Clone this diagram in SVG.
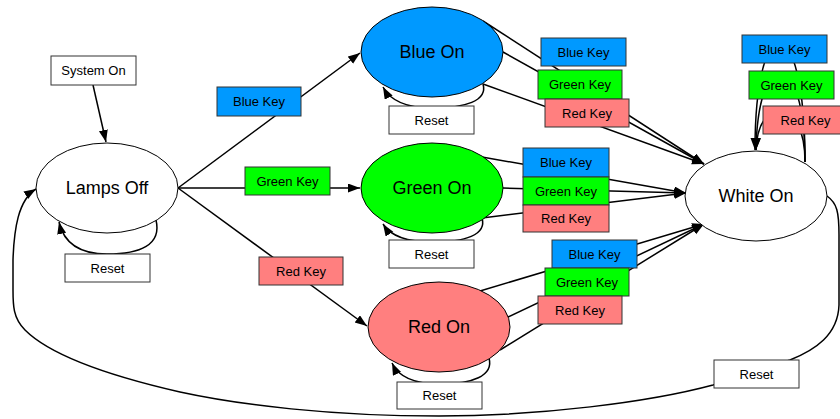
<svg xmlns="http://www.w3.org/2000/svg" width="840" height="419" viewBox="0 0 840 419">
  <style>
    .edge { fill: none; stroke: #000; stroke-width: 1.5; }
    .arrow { marker-end: url(#head); }
    .state { stroke: #000; stroke-width: 1; }
    .box { stroke: #333; stroke-width: 1; }
    .white { fill: #fff; }
    .blue { fill: #0099ff; }
    .green { fill: #00ff00; }
    .red { fill: #ff7f7f; }
    .node-text { font-family: "Liberation Sans", Arial, sans-serif; font-size: 18px; fill: #000; text-anchor: middle; dominant-baseline: central; }
    .label-text { font-family: "Liberation Sans", Arial, sans-serif; font-size: 13px; fill: #000; text-anchor: middle; dominant-baseline: central; }
  </style>
  <defs>
    <marker id="head" markerUnits="userSpaceOnUse" markerWidth="13" markerHeight="10" refX="12" refY="4.5" orient="auto">
      <path d="M0,0 L12,4.5 L0,9 z" fill="#000"/>
    </marker>
  </defs>

  <rect width="840" height="419" fill="#fff"/>

  <g id="connectors">
    <!-- start -->
    <path class="edge arrow" d="M93,85 L106,142"/>
    <!-- Lamps Off out -->
    <path class="edge arrow" d="M178,188 L360,53"/>
    <path class="edge arrow" d="M178,188 L360,188"/>
    <path class="edge arrow" d="M178,188 L367,326"/>
    <!-- Reset loops -->
    <path class="edge arrow" d="M156,220 C162,245 140,254 107,254 C80,254 64,244 59,222"/>
    <path class="edge arrow" d="M483,84 C488,101 465,108 432,108 C405,108 390,100 383,87"/>
    <path class="edge arrow" d="M482,218 C487,235 465,242 432,242 C405,242 390,235 383,224"/>
    <path class="edge arrow" d="M489,358 C494,376 472,384 440,384 C412,384 398,376 392,363"/>
    <!-- Blue On to White On -->
    <path class="edge arrow" d="M483,21 L704,164"/>
    <path class="edge arrow" d="M503,52 L704,164"/>
    <path class="edge arrow" d="M483,84 L704,164"/>
    <!-- Green On to White On -->
    <path class="edge arrow" d="M482,157 L686,193"/>
    <path class="edge arrow" d="M503,188 L686,193"/>
    <path class="edge arrow" d="M482,218 L686,193"/>
    <!-- Red On to White On -->
    <path class="edge arrow" d="M480,291 L704,224"/>
    <path class="edge arrow" d="M508,317 L704,224"/>
    <path class="edge arrow" d="M500,350 L704,224"/>
    <!-- White On self loops -->
    <path class="edge arrow" d="M805,162 C805,5 755,5 755,150"/>
    <path class="edge arrow" d="M805,162 C805,45 758,45 756,150"/>
    <path class="edge arrow" d="M805,162 C805,95 758,95 756,150"/>
    <!-- White On reset back to Lamps Off -->
    <path class="edge arrow" d="M827,196 C837,203 839,212 839,235 L839,305 C838,335 815,350 790,360 L713,385 C650,402 540,416 439,416 C330,416 240,405 180,392 C110,376 50,355 25,330 C13,318 13,305 13,290 L13,260 C14,230 18,200 36,189"/>
  </g>

  <g id="system-on">
    <rect class="box white" x="51" y="56" width="85" height="29"/>
    <text class="label-text" x="93.5" y="70.5">System On</text>
  </g>

  <g id="lamps-off">
    <ellipse class="state white" cx="107" cy="188" rx="71" ry="45"/>
    <text class="node-text" x="107" y="188">Lamps Off</text>
  </g>

  <g id="blue-on">
    <ellipse class="state blue" cx="432" cy="52" rx="71" ry="45"/>
    <text class="node-text" x="432" y="52">Blue On</text>
  </g>

  <g id="green-on">
    <ellipse class="state green" cx="432" cy="188" rx="71" ry="45"/>
    <text class="node-text" x="432" y="188">Green On</text>
  </g>

  <g id="red-on">
    <ellipse class="state red" cx="439" cy="327" rx="71" ry="45"/>
    <text class="node-text" x="439" y="327">Red On</text>
  </g>

  <g id="white-on">
    <ellipse class="state white" cx="756" cy="196" rx="71" ry="45"/>
    <text class="node-text" x="756" y="196">White On</text>
  </g>

  <g id="labels">
    <!-- Lamps Off transitions -->
    <rect class="box white" x="65" y="254" width="85" height="28"/>
    <text class="label-text" x="107.5" y="268">Reset</text>
    <rect class="box blue" x="217" y="87" width="84" height="29"/>
    <text class="label-text" x="259" y="101.5">Blue Key</text>
    <rect class="box green" x="245" y="167" width="85" height="28"/>
    <text class="label-text" x="287.5" y="181">Green Key</text>
    <rect class="box red" x="259" y="257" width="84" height="28"/>
    <text class="label-text" x="301" y="271">Red Key</text>

    <!-- Blue On transitions -->
    <rect class="box white" x="389" y="106" width="85" height="28"/>
    <text class="label-text" x="431.5" y="120">Reset</text>
    <rect class="box blue" x="541" y="38" width="85" height="28"/>
    <text class="label-text" x="583.5" y="52">Blue Key</text>
    <rect class="box green" x="538" y="70" width="84" height="29"/>
    <text class="label-text" x="580" y="84.5">Green Key</text>
    <rect class="box red" x="545" y="99" width="84" height="28"/>
    <text class="label-text" x="587" y="113">Red Key</text>

    <!-- Green On transitions -->
    <rect class="box white" x="389" y="240" width="85" height="28"/>
    <text class="label-text" x="431.5" y="254">Reset</text>
    <rect class="box blue" x="523" y="148" width="86" height="29"/>
    <text class="label-text" x="566" y="162.5">Blue Key</text>
    <rect class="box green" x="523" y="177" width="86" height="28"/>
    <text class="label-text" x="566" y="191">Green Key</text>
    <rect class="box red" x="523" y="205" width="86" height="27"/>
    <text class="label-text" x="566" y="218.5">Red Key</text>

    <!-- Red On transitions -->
    <rect class="box white" x="397" y="382" width="85" height="27"/>
    <text class="label-text" x="439.5" y="395.5">Reset</text>
    <rect class="box blue" x="552" y="240" width="85" height="28"/>
    <text class="label-text" x="594.5" y="254">Blue Key</text>
    <rect class="box green" x="545" y="268" width="84" height="28"/>
    <text class="label-text" x="587" y="282">Green Key</text>
    <rect class="box red" x="538" y="296" width="84" height="28"/>
    <text class="label-text" x="580" y="310">Red Key</text>

    <!-- White On transitions -->
    <rect class="box blue" x="742" y="35" width="85" height="28"/>
    <text class="label-text" x="784.5" y="49">Blue Key</text>
    <rect class="box green" x="749" y="71" width="85" height="28"/>
    <text class="label-text" x="791.5" y="85">Green Key</text>
    <rect class="box red" x="763" y="106" width="85" height="28"/>
    <text class="label-text" x="805.5" y="120">Red Key</text>
    <rect class="box white" x="714" y="360" width="85" height="28"/>
    <text class="label-text" x="756.5" y="374">Reset</text>
  </g>
</svg>
